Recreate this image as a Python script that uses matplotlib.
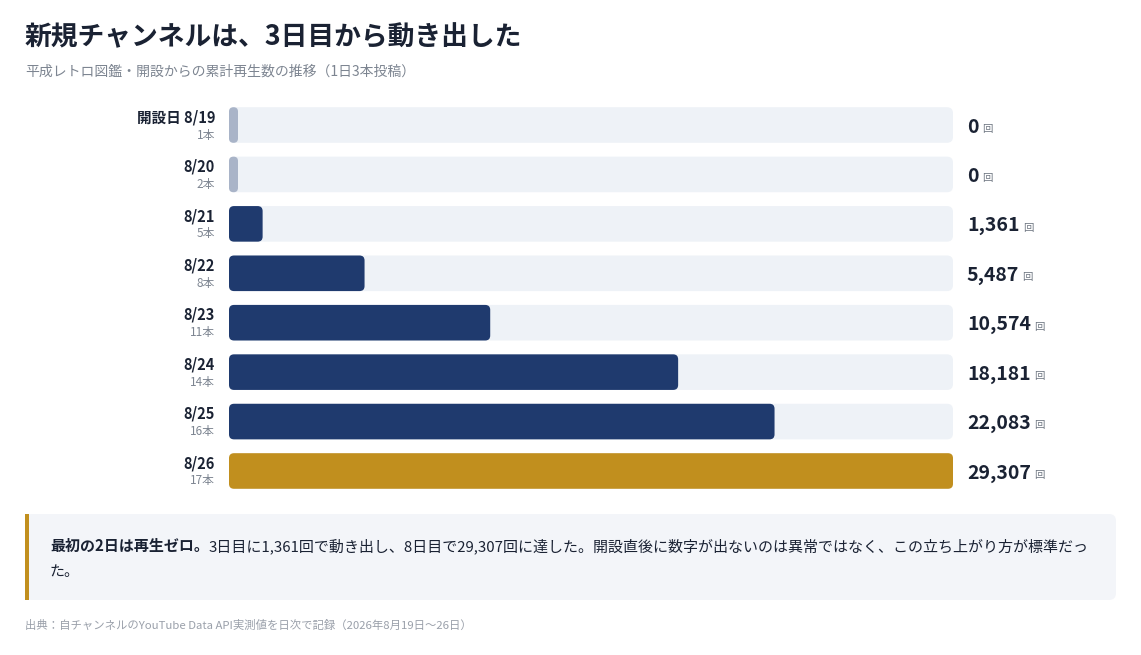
import matplotlib
matplotlib.use('Agg')
import matplotlib.pyplot as plt
from matplotlib.patches import FancyBboxPatch, Rectangle

plt.rcParams['font.family'] = ['Noto Sans CJK JP', 'DejaVu Sans']

dates = ['開設日 8/19', '8/20', '8/21', '8/22', '8/23', '8/24', '8/25', '8/26']
posts = ['1本', '2本', '5本', '8本', '11本', '14本', '16本', '17本']
views = [0, 0, 1361, 5487, 10574, 18181, 22083, 29307]

title = '新規チャンネルは、3日目から動き出した'
subtitle = '平成レトロ図鑑・開設からの累計再生数の推移（1日3本投稿）'
note_bold = '最初の2日は再生ゼロ。'
note_rest = '3日目に1,361回で動き出し、8日目で29,307回に達した。開設直後に数字が出ないのは異常ではなく、この立ち上がり方が標準だっ'
note_line2 = 'た。'
source = '出典：自チャンネルのYouTube Data API実測値を日次で記録（2026年8月19日〜26日）'

W, H = 1141, 655
navy = '#1f3a6e'
gold = '#c18f1e'
track = '#eef2f7'
zero_c = '#a9b4c8'
dark = '#1a2233'
grey = '#7d8591'


def px(x, y):
    return x / W, 1 - y / H


fig = plt.figure(figsize=(W / 100, H / 100), dpi=100)
fig.patch.set_facecolor('white')

# axes de barras: 229..953 px, linhas de 100..496 px
ax_l, ax_r, ax_t, ax_b = 229, 953, 100.3, 495.7
ax = fig.add_axes([ax_l / W, 1 - ax_b / H, (ax_r - ax_l) / W, (ax_b - ax_t) / H])
n = len(views)
vmax = max(views)
ax.set_xlim(0, vmax)
ax.set_ylim(n - 0.5, -0.5)
ax.axis('off')

ux = vmax / (ax_r - ax_l)          # unidades x por pixel
uy = n / (ax_b - ax_t)             # unidades y por pixel
asp = uy / ux
bh = 0.72

for i, v in enumerate(views):
    ax.add_patch(FancyBboxPatch((0, i - bh / 2), vmax, bh,
                                boxstyle='round,pad=0,rounding_size=%f' % (6 * ux),
                                mutation_aspect=asp, fc=track, ec='none'))
    if v == 0:
        w = 9 * ux
        c = zero_c
        r = 4.4 * ux
    else:
        w = v
        c = gold if i == n - 1 else navy
        r = 5 * ux
    ax.add_patch(FancyBboxPatch((0, i - bh / 2), w, bh,
                                boxstyle='round,pad=0,rounding_size=%f' % r,
                                mutation_aspect=asp, fc=c, ec='none'))

    ax.annotate(dates[i], xy=(0, i), xycoords=ax.get_yaxis_transform(),
                xytext=(-10, 5.6), textcoords='offset points',
                ha='right', va='center', fontsize=10.5, fontweight='bold', color=dark)
    ax.annotate(posts[i], xy=(0, i), xycoords=ax.get_yaxis_transform(),
                xytext=(-10, -7.2), textcoords='offset points',
                ha='right', va='center', fontsize=8.5, color=grey)

    t = ax.annotate(f'{v:,}', xy=(1, i), xycoords=ax.get_yaxis_transform(),
                    xytext=(10, -1.5), textcoords='offset points',
                    ha='left', va='center', fontsize=14, fontweight='bold', color=dark)
    ax.annotate('回', xy=(1, 0), xycoords=t, xytext=(2.5, 2), textcoords='offset points',
                ha='left', va='bottom', fontsize=7.5, color='#6f7782')

# titulo
fig.text(*px(25, 37), title, fontsize=19.3, fontweight='bold', color=dark, va='center', ha='left')
fig.text(*px(25, 72), subtitle, fontsize=10, color=grey, va='center', ha='left')

# caixa de nota
bx0, bx1, by0, by1 = 25, 1116, 514, 600
fig.patches.append(FancyBboxPatch(px(bx0, by1), (bx1 - bx0) / W, (by1 - by0) / H,
                                  boxstyle='round,pad=0,rounding_size=%f' % (7 / W),
                                  mutation_aspect=W / H, fc='#f3f5f9', ec='none',
                                  transform=fig.transFigure, figure=fig))
fig.patches.append(Rectangle(px(bx0, by1), 4 / W, (by1 - by0) / H, fc=gold, ec='none',
                             transform=fig.transFigure, figure=fig))

fs_note = 10.8
tb = fig.text(*px(50, 546), note_bold, fontsize=fs_note, fontweight='bold', color=dark,
              va='center', ha='left')
fig.canvas.draw()
bb = tb.get_window_extent()
fig.text(bb.x1 / W, px(50, 546)[1], note_rest, fontsize=fs_note, color=dark,
         va='center', ha='left')
fig.text(*px(50, 572), note_line2, fontsize=fs_note, color=dark, va='center', ha='left')

fig.text(*px(25, 625), source, fontsize=8.2, color='#9aa0aa', va='center', ha='left')

plt.savefig('out.png', dpi=100)
